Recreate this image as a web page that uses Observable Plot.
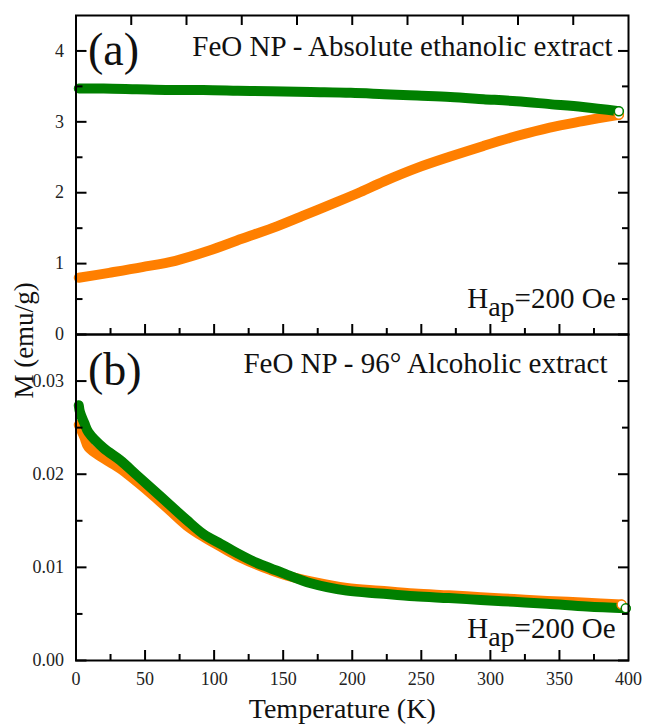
<!DOCTYPE html>
<html>
<head>
<meta charset="utf-8">
<script src="https://cdn.jsdelivr.net/npm/d3@7"></script>
<script src="https://cdn.jsdelivr.net/npm/@observablehq/plot@0.6"></script>
<style>
  body { margin: 0; background: #fff; font-family: "Liberation Serif", "Times New Roman", serif; }
  #wrap { position: relative; width: 645px; height: 724px; }
  #wrap svg { position: absolute; left: 0; overflow: visible; }
</style>
</head>
<body>
<div id="wrap"></div>
<script>
// ---------- data ----------
const tempA_zfc = [2, 24, 48, 72, 96, 120, 142, 165, 189, 206, 223, 247, 271, 295, 319, 343, 367, 393];
const magA_zfc  = [0.80, 0.87, 0.95, 1.04, 1.18, 1.35, 1.50, 1.68, 1.87, 2.01, 2.16, 2.35, 2.51, 2.66, 2.80, 2.92, 3.01, 3.10];
const tempA_fc  = [2, 20, 44, 68, 92, 117, 141, 170, 199, 223, 247, 271, 295, 319, 343, 367, 393];
const magA_fc   = [3.47, 3.47, 3.46, 3.45, 3.45, 3.44, 3.43, 3.42, 3.41, 3.39, 3.37, 3.35, 3.32, 3.29, 3.25, 3.21, 3.15];

const tempB_zfc = [2, 6, 9, 20, 32, 44, 56, 68, 80, 92, 105, 117, 129, 141, 153, 170, 196, 220, 245, 270, 293, 317, 341, 370, 395];
const magB_zfc  = [0.0253, 0.0240, 0.0229, 0.0217, 0.0206, 0.0192, 0.0177, 0.0161, 0.0145, 0.0133, 0.0122, 0.0112, 0.0104, 0.0097, 0.0091, 0.0085, 0.0078, 0.0075, 0.0072, 0.0070, 0.0068, 0.0066, 0.0064, 0.0062, 0.0060];
const tempB_fc  = [2, 3, 6, 9, 20, 32, 44, 56, 68, 80, 92, 105, 117, 129, 141, 153, 170, 196, 220, 245, 270, 293, 317, 341, 370, 398];
const magB_fc   = [0.0274, 0.0266, 0.0255, 0.0245, 0.0228, 0.0215, 0.0199, 0.0183, 0.0167, 0.0151, 0.0136, 0.0125, 0.0115, 0.0106, 0.0099, 0.0092, 0.0083, 0.0075, 0.0072, 0.0069, 0.0067, 0.0065, 0.0063, 0.0061, 0.0058, 0.0056];

const xTicks      = [0, 50, 100, 150, 200, 250, 300, 350, 400];
const xMinorTicks = [25, 75, 125, 175, 225, 275, 325, 375];
const xTopTicksA  = [40, 80, 120, 160, 200, 240, 280, 320, 360];
const yTicksA      = [0, 1, 2, 3, 4];
const yMinorTicksA = [0.5, 1.5, 2.5, 3.5];
const yTicksB      = [0, 0.01, 0.02, 0.03];
const yMinorTicksB = [0.005, 0.015, 0.025];

const titleA = "FeO NP - Absolute ethanolic extract";
const titleB = "FeO NP - 96° Alcoholic extract";
const panelA = "(a)";
const panelB = "(b)";
const fieldH = "H", fieldSub = "ap", fieldRest = "=200 Oe";
const xLabel = "Temperature (K)";
const yLabel = "M (emu/g)";

const ZFC_COLOR = "#ff7f00";
const FC_COLOR = "#008000";
const FONT = "\"Liberation Serif\", \"Times New Roman\", serif";

// ---------- helpers ----------
const rows = (T, M) => T.map((t, i) => ({T: t, M: M[i]}));
const ctx = document.createElement("canvas").getContext("2d");
function textWidth(s, size) { ctx.font = `${size}px ${FONT}`; return ctx.measureText(s).width; }

const W = 645, ML = 75.5, MR = 17;
const noText = () => "";

function frameAxes(yMajor, yMinor, yFmt, withXLabels, topTicks) {
  const marks = [
    Plot.axisY({ticks: yMajor, anchor: "left", tickSize: -11, tickFormat: noText, label: null, strokeWidth: 2}),
    Plot.axisY({ticks: yMinor, anchor: "left", tickSize: -7, tickFormat: noText, label: null, strokeWidth: 2}),
    Plot.axisY({ticks: yMajor, anchor: "right", tickSize: -11, tickFormat: noText, label: null, strokeWidth: 2}),
    Plot.axisY({ticks: yMinor, anchor: "right", tickSize: -7, tickFormat: noText, label: null, strokeWidth: 2}),
    Plot.axisY({ticks: yMajor, anchor: "left", tickSize: 0, tickPadding: 12, tickFormat: yFmt, label: null,
                fontSize: 18, fontFamily: FONT, fill: "#222"}),
    Plot.axisX({ticks: xTicks.slice(1, -1), anchor: "bottom", tickSize: -10, tickFormat: noText, label: null, strokeWidth: 2}),
    Plot.axisX({ticks: xMinorTicks, anchor: "bottom", tickSize: -6, tickFormat: noText, label: null, strokeWidth: 2})
  ];
  if (topTicks) marks.push(Plot.axisX({ticks: topTicks, anchor: "top", tickSize: -9, tickFormat: noText, label: null, strokeWidth: 2}));
  if (withXLabels) marks.push(Plot.axisX({ticks: xTicks, anchor: "bottom", tickSize: 0, tickPadding: 12, label: null,
                                          fontSize: 18, fontFamily: FONT, fill: "#222"}));
  return marks;
}

function fieldMarks(dyBase) {
  const right = -13;
  const wRest = textWidth(fieldRest, 29);
  const wSub = textWidth(fieldSub, 28);
  const common = {frameAnchor: "bottom-right", textAnchor: "end", lineAnchor: "bottom", fontFamily: FONT, fill: "#111"};
  return [
    Plot.text([fieldRest], {...common, text: d => d, fontSize: 29, dx: right, dy: dyBase}),
    Plot.text([fieldSub], {...common, text: d => d, fontSize: 28, dx: right - wRest, dy: dyBase + 8}),
    Plot.text([fieldH], {...common, text: d => d, fontSize: 29, dx: right - wRest - wSub, dy: dyBase})
  ];
}

const seriesMarks = (zfc, fc) => [
  Plot.line(zfc, {x: "T", y: "M", stroke: ZFC_COLOR, strokeWidth: 10, curve: "catmull-rom"}),
  Plot.line(fc, {x: "T", y: "M", stroke: FC_COLOR, strokeWidth: 10, curve: "catmull-rom"}),
  Plot.dot(zfc.slice(-1), {x: "T", y: "M", r: 4.5, stroke: ZFC_COLOR, strokeWidth: 1.5, fill: "white"}),
  Plot.dot(fc.slice(-1), {x: "T", y: "M", r: 4.5, stroke: FC_COLOR, strokeWidth: 1.5, fill: "white"})
];

// ---------- panel (a) ----------
const plotA = Plot.plot({
  width: W, height: 335,
  marginLeft: ML, marginRight: MR, marginTop: 15, marginBottom: 1,
  style: {fontFamily: FONT, fontSize: "18px", background: "transparent", overflow: "visible"},
  x: {domain: [0, 400]},
  y: {domain: [0, 4.5]},
  marks: [
    ...seriesMarks(rows(tempA_zfc, magA_zfc), rows(tempA_fc, magA_fc)),
    ...frameAxes(yTicksA, yMinorTicksA, d => String(d), false, xTopTicksA),
    Plot.text([panelA], {text: d => d, frameAnchor: "top-left", textAnchor: "start", lineAnchor: "bottom",
                         dx: 12, dy: 49, fontSize: 46, fontFamily: FONT, fill: "#111"}),
    Plot.text([titleA], {text: d => d, frameAnchor: "top-right", textAnchor: "end", lineAnchor: "bottom",
                         dx: -16, dy: 40, fontSize: 29, fontFamily: FONT, fill: "#111"}),
    ...fieldMarks(-27),
    Plot.frame({stroke: "#000", strokeWidth: 2})
  ]
});
plotA.style.top = "0px";

// ---------- panel (b) ----------
const plotB = Plot.plot({
  width: W, height: 405,
  marginLeft: ML, marginRight: MR, marginTop: 15, marginBottom: 64,
  style: {fontFamily: FONT, fontSize: "18px", background: "transparent", overflow: "visible"},
  x: {domain: [0, 400]},
  y: {domain: [0, 0.035]},
  marks: [
    ...seriesMarks(rows(tempB_zfc, magB_zfc), rows(tempB_fc, magB_fc)),
    ...frameAxes(yTicksB, yMinorTicksB, d3.format(".2f"), true, null),
    Plot.text([panelB], {text: d => d, frameAnchor: "top-left", textAnchor: "start", lineAnchor: "bottom",
                         dx: 12, dy: 50, fontSize: 46, fontFamily: FONT, fill: "#111"}),
    Plot.text([titleB], {text: d => d, frameAnchor: "top-right", textAnchor: "end", lineAnchor: "bottom",
                         dx: -21, dy: 38, fontSize: 29, fontFamily: FONT, fill: "#111"}),
    ...fieldMarks(-23),
    Plot.text([xLabel], {text: d => d, frameAnchor: "bottom", textAnchor: "middle", lineAnchor: "bottom",
                         dx: -10, dy: 57, fontSize: 28, fontFamily: FONT, fill: "#111"}),
    Plot.text([yLabel], {text: d => d, frameAnchor: "left", textAnchor: "middle", lineAnchor: "middle", rotate: -90,
                         dx: -51.5, dy: 340 - 497, fontSize: 27, fontFamily: FONT, fill: "#111"}),
    Plot.frame({stroke: "#000", strokeWidth: 2})
  ]
});
plotB.style.top = "319px";

const wrap = document.getElementById("wrap");
wrap.appendChild(plotB);
wrap.appendChild(plotA);
</script>
</body>
</html>
